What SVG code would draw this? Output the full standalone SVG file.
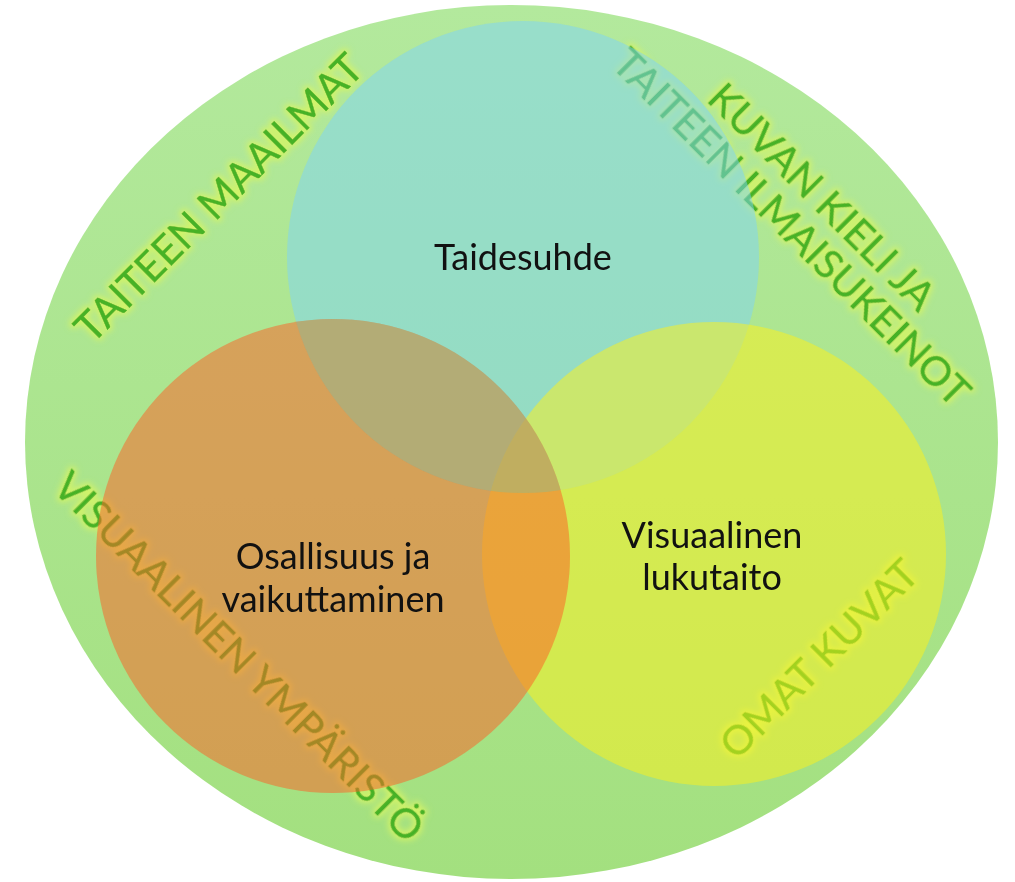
<svg xmlns="http://www.w3.org/2000/svg" width="1015" height="882" viewBox="0 0 1015 882">
  <style>
    .outer { font-family: Lato, "Liberation Sans", sans-serif; font-size: 41px; fill: #46b226; stroke: #46b226; stroke-width: 0.5px; text-anchor: middle; }
    .inner { font-family: Lato, "Liberation Sans", sans-serif; font-size: 36px; fill: #111111; text-anchor: middle; }
    .venn { opacity: 0.5; }
  </style>
  <defs>
    <linearGradient id="gOuter" x1="0" y1="0" x2="0" y2="1">
      <stop offset="0" stop-color="#b3e99d"/>
      <stop offset="1" stop-color="#a3e07f"/>
    </linearGradient>
    <clipPath id="clipCyan">
      <circle cx="523" cy="257" r="236"/>
    </clipPath>
    <filter id="glow" x="-10%" y="-40%" width="120%" height="180%">
      <feMorphology in="SourceAlpha" operator="dilate" radius="2" result="d"/>
      <feGaussianBlur in="d" stdDeviation="3" result="b"/>
      <feFlood flood-color="#d4f466" flood-opacity="0.95"/>
      <feComposite in2="b" operator="in" result="g"/>
      <feMerge>
        <feMergeNode in="g"/>
        <feMergeNode in="SourceGraphic"/>
      </feMerge>
    </filter>
  </defs>

  <g id="outer-area">
    <ellipse cx="511.5" cy="442" rx="486.5" ry="437" fill="url(#gOuter)"/>
  </g>

  <g id="outer-labels" filter="url(#glow)">
    <text class="outer" transform="translate(229,208) rotate(-45)">TAITEEN MAAILMAT</text>
    <text class="outer" transform="translate(812,207) rotate(45)"><tspan x="0" y="0">KUVAN KIELI JA</tspan><tspan x="0" y="43">TAITEEN ILMAISUKEINOT</tspan></text>
    <text class="outer" transform="translate(229,667) rotate(45)">VISUAALINEN YMPÄRISTÖ</text>
    <text class="outer" transform="translate(829,669) rotate(-45)">OMAT KUVAT</text>
  </g>

  <g id="node-taidesuhde">
    <circle class="venn" cx="523" cy="257" r="236" fill="#7ed4f8"/>
    <text class="inner" x="523" y="270">Taidesuhde</text>
  </g>

  <g id="node-visuaalinen-lukutaito">
    <circle class="venn" cx="714" cy="554" r="232" fill="#fff218"/>
    <text class="inner" x="712" y="548">Visuaalinen</text>
    <text class="inner" x="712" y="590">lukutaito</text>
  </g>

  <g id="node-osallisuus">
    <circle class="venn" cx="333" cy="556" r="237" fill="#ff5e24"/>
    <circle cx="333" cy="556" r="237" clip-path="url(#clipCyan)" fill="#9cbc78" opacity="0.5"/>
    <text class="inner" x="333" y="569">Osallisuus ja</text>
    <text class="inner" x="333" y="612">vaikuttaminen</text>
  </g>

  <g id="connectors"/>
</svg>
